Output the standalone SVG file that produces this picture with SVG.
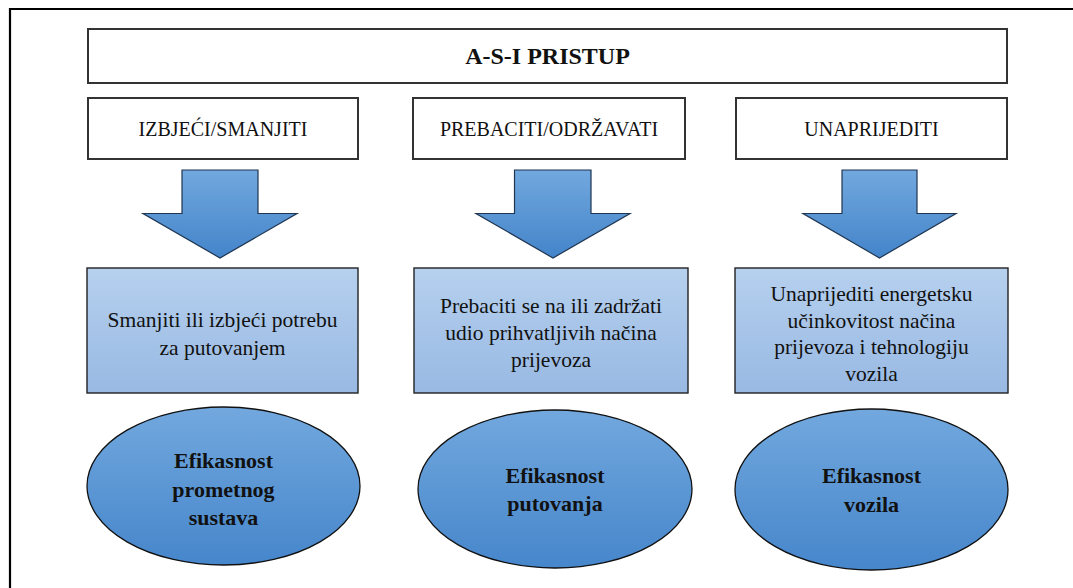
<svg xmlns="http://www.w3.org/2000/svg" width="1073" height="588" viewBox="0 0 1073 588">
<style>
.frame{fill:none;stroke:#000;stroke-width:2.2}
.hdr{fill:#fff;stroke:#333;stroke-width:2}
.blk{fill:url(#gBox);stroke:#222;stroke-width:1.4}
.arr{fill:url(#gArr);stroke:#1f3550;stroke-width:1.2;stroke-linejoin:miter}
.ell{fill:url(#gEll);stroke:#111;stroke-width:1.3}
.t1{font-size:24px;font-weight:bold}
.t2{font-size:20px}
.t3{font-size:21.5px}
.t4{font-size:22px;font-weight:bold}
</style>
<defs>
<linearGradient id="gBox" x1="0" y1="0" x2="0" y2="1">
<stop offset="0" stop-color="#b6d0ee"/>
<stop offset="1" stop-color="#98b9e3"/>
</linearGradient>
<linearGradient id="gArr" x1="0" y1="0" x2="0" y2="1">
<stop offset="0" stop-color="#72a8de"/>
<stop offset="1" stop-color="#4384ca"/>
</linearGradient>
<linearGradient id="gEll" x1="0" y1="0" x2="0" y2="1">
<stop offset="0" stop-color="#72a8de"/>
<stop offset="1" stop-color="#4686cb"/>
</linearGradient>
</defs>
<rect width="1073" height="588" fill="#fff"/>
<path class="frame" d="M10,590 V9 H1075"/>

<g font-family="'Liberation Serif', 'DejaVu Serif', serif" fill="#111" text-anchor="middle">
<g id="title">
<rect class="hdr" x="88" y="29" width="919" height="54"/>
<text class="t1" x="547.5" y="63.5">A-S-I PRISTUP</text>
</g>

<g id="h1">
<rect class="hdr" x="88" y="98" width="270" height="61"/>
<text class="t2" x="223" y="136">IZBJEĆI/SMANJITI</text>
</g>
<g id="h2">
<rect class="hdr" x="413" y="98" width="272" height="61"/>
<text class="t2" x="549" y="136">PREBACITI/ODRŽAVATI</text>
</g>
<g id="h3">
<rect class="hdr" x="736" y="98" width="271" height="61"/>
<text class="t2" x="871.5" y="136">UNAPRIJEDITI</text>
</g>

<g id="connectors">
<path class="arr" d="M182,170 H258 V213.5 H297 L220,258 L143,213.5 H182 Z"/>
<path class="arr" d="M514.5,170 H591 V213.5 H630 L553,258 L476,213.5 H514.5 Z"/>
<path class="arr" d="M842,170 H917 V213.5 H956 L879.5,258 L803,213.5 H842 Z"/>
</g>

<g id="b1">
<rect class="blk" x="87" y="268" width="271" height="125"/>
<text class="t3" x="222.5" y="327">Smanjiti ili izbjeći potrebu</text>
<text class="t3" x="222.5" y="355">za putovanjem</text>
</g>
<g id="b2">
<rect class="blk" x="414" y="268" width="274" height="125"/>
<text class="t3" x="551" y="313">Prebaciti se na ili zadržati</text>
<text class="t3" x="551" y="340">udio prihvatljivih načina</text>
<text class="t3" x="551" y="367">prijevoza</text>
</g>
<g id="b3">
<rect class="blk" x="735" y="268" width="273" height="125"/>
<text class="t3" x="871.5" y="301">Unaprijediti energetsku</text>
<text class="t3" x="871.5" y="327.5">učinkovitost načina</text>
<text class="t3" x="871.5" y="354">prijevoza i tehnologiju</text>
<text class="t3" x="871.5" y="380.5">vozila</text>
</g>

<g id="e1">
<ellipse class="ell" cx="223.5" cy="486" rx="136.5" ry="79"/>
<text class="t4" x="223.5" y="468">Efikasnost</text>
<text class="t4" x="223.5" y="497">prometnog</text>
<text class="t4" x="223.5" y="525">sustava</text>
</g>
<g id="e2">
<ellipse class="ell" cx="555" cy="489" rx="137" ry="79"/>
<text class="t4" x="555" y="483">Efikasnost</text>
<text class="t4" x="555" y="511">putovanja</text>
</g>
<g id="e3">
<ellipse class="ell" cx="871.5" cy="489.5" rx="136.5" ry="80.5"/>
<text class="t4" x="871.5" y="483">Efikasnost</text>
<text class="t4" x="871.5" y="512">vozila</text>
</g>
</g>
</svg>
